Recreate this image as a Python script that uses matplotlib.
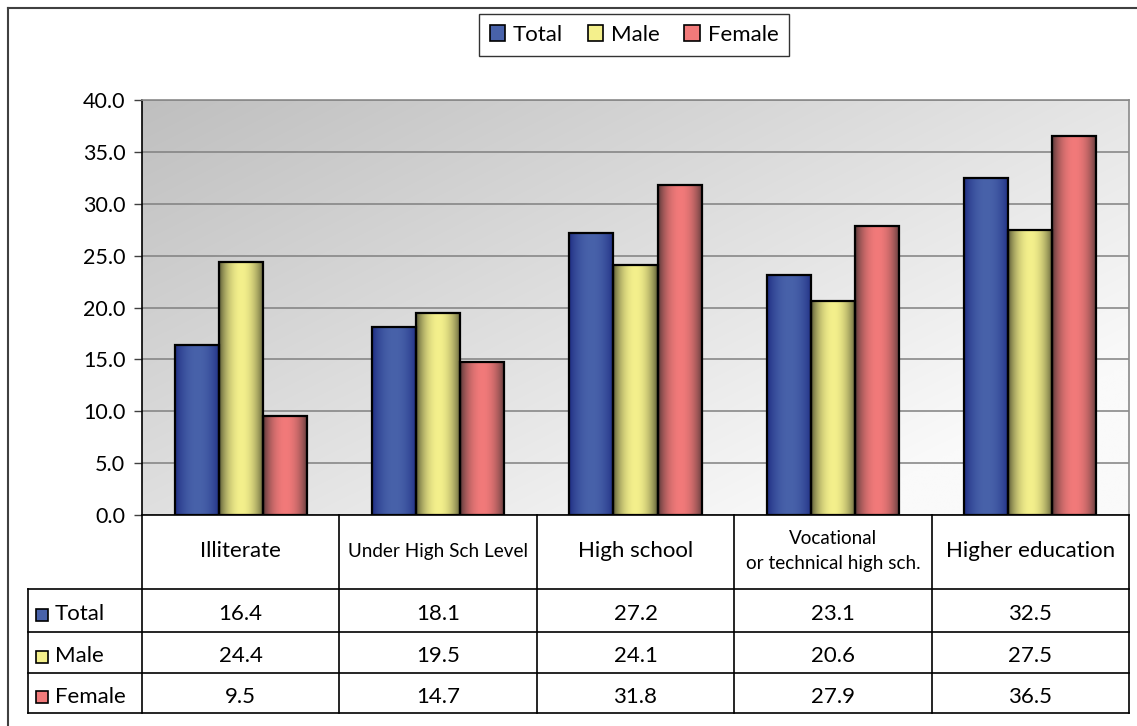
import numpy as np
import matplotlib.pyplot as plt
from matplotlib.patches import Patch, Rectangle
from matplotlib.lines import Line2D
from matplotlib.colors import to_rgb

# data
categories = ["Illiterate", "Under High Sch Level", "High school",
              "Vocational\nor technical high sch.", "Higher education"]
series = ["Total", "Male", "Female"]
total = [16.4, 18.1, 27.2, 23.1, 32.5]
male = [24.4, 19.5, 24.1, 20.6, 27.5]
female = [9.5, 14.7, 31.8, 27.9, 36.5]
yticks = [0, 5, 10, 15, 20, 25, 30, 35, 40]

# styles
mid_colors = ["#4862aa", "#f4f08c", "#f27a7a"]
edge_colors = ["#1c2a80", "#505030", "#4e3434"]
cat_sizes = [16, 13.6, 16, 13.6, 16]

plt.rcParams['font.family'] = ['Lato', 'DejaVu Sans']

W, H = 1137, 726
fig = plt.figure(figsize=(W / 100, H / 100), dpi=100)


def fx(x):
    return x / W


def fy(y):
    return 1 - y / H


L, R, T, B = 142, 1129, 100, 515
ax = fig.add_axes([fx(L), fy(B), fx(R) - fx(L), fy(T) - fy(B)])

# background gradient (dark top-left -> light bottom-right)
gx, gy = np.meshgrid(np.linspace(0, 1, 300), np.linspace(0, 1, 300))
t = np.clip(0.65 * gx + 0.55 * gy, 0, 1)
dark, light = np.array(to_rgb("#bfbfbf")), np.array(to_rgb("#fafafa"))
bg = dark[None, None, :] + t[..., None] * (light - dark)[None, None, :]
ax.imshow(bg, extent=(0, 1, 0, 1), transform=ax.transAxes, aspect='auto',
          zorder=-1, interpolation='bilinear')


def bar_gradient(mid, edge, n=64):
    s = np.linspace(0, 1, n)
    w = np.sin(np.pi * s) ** 0.7
    m, e = np.array(to_rgb(mid)), np.array(to_rgb(edge))
    row = e[None, :] + w[:, None] * (m - e)[None, :]
    return row[None, :, :]


x = np.arange(len(categories))
bw = 0.223
data = [total, male, female]
for i, vals in enumerate(data):
    bars = ax.bar(x + (i - 1) * bw, vals, width=bw, facecolor='none',
                  edgecolor='black', lw=1.6, zorder=3)
    grad = bar_gradient(mid_colors[i], edge_colors[i])
    for b in bars:
        im = ax.imshow(grad, extent=(b.get_x(), b.get_x() + b.get_width(), 0, b.get_height()),
                       aspect='auto', zorder=2.5, interpolation='bilinear')
        im.set_clip_path(b)

ax.set_xlim(-0.5, len(categories) - 0.5)
ax.set_ylim(0, 40)
ax.set_yticks(yticks)
ax.set_yticklabels([f"{v:.1f}" for v in yticks])
ax.set_xticks([])
ax.yaxis.grid(True, color='#808080', lw=1.1)
ax.set_axisbelow(True)
ax.tick_params(axis='y', direction='out', length=6, width=1, color='#404040',
               labelsize=15.5, pad=6)
ax.spines['left'].set_color('black')
ax.spines['bottom'].set_color('black')
ax.spines['top'].set_color('#8a8a8a')
ax.spines['right'].set_color('#8a8a8a')
for s in ax.spines.values():
    s.set_linewidth(1.2)

# table under the chart
col_w = (R - L) / len(categories)
rows_y = [589, 632, 673, 713]
TL = 28


def hline(x0, x1, y, lw=1.2, color='black'):
    fig.add_artist(Line2D([fx(x0), fx(x1)], [fy(y), fy(y)], color=color, lw=lw))


def vline(x, y0, y1, lw=1.2, color='black'):
    fig.add_artist(Line2D([fx(x), fx(x)], [fy(y0), fy(y1)], color=color, lw=lw))


for k in range(len(categories) + 1):
    vline(L + k * col_w, B, rows_y[-1])
vline(TL, rows_y[0], rows_y[-1])
for y in rows_y:
    hline(TL, R, y)

for k, cat in enumerate(categories):
    cx = L + (k + 0.5) * col_w
    fig.text(fx(cx), fy((B + rows_y[0]) / 2 - 1), cat, ha='center', va='center',
             fontsize=cat_sizes[k], linespacing=1.5)

for r, name in enumerate(series):
    cy = (rows_y[r] + rows_y[r + 1]) / 2 + 4
    fig.add_artist(Rectangle((fx(36), fy(cy + 6)), fx(12), fy(0) - fy(12),
                             facecolor=mid_colors[r], edgecolor='black', lw=1.2,
                             transform=fig.transFigure))
    fig.text(fx(55), fy(cy), name, ha='left', va='center', fontsize=16)
    for k, v in enumerate(data[r]):
        fig.text(fx(L + (k + 0.5) * col_w), fy(cy), f"{v:.1f}", ha='center',
                 va='center', fontsize=16)

# outer frame
vline(8, 8, H, lw=1.5, color='#404040')
hline(8, W, 8, lw=1.5, color='#404040')

# legend
handles = [Patch(facecolor=mid_colors[i], edgecolor='black', lw=1.2) for i in range(3)]
leg = fig.legend(handles, series, loc='center', bbox_to_anchor=(fx(634), fy(35)),
                 ncol=3, fontsize=16, frameon=True, fancybox=False, edgecolor='black',
                 handlelength=0.7, handleheight=0.7, handletextpad=0.35,
                 columnspacing=1.1, borderpad=0.5, borderaxespad=0)
leg.get_frame().set_linewidth(1.0)

fig.savefig("out.png", dpi=100)
